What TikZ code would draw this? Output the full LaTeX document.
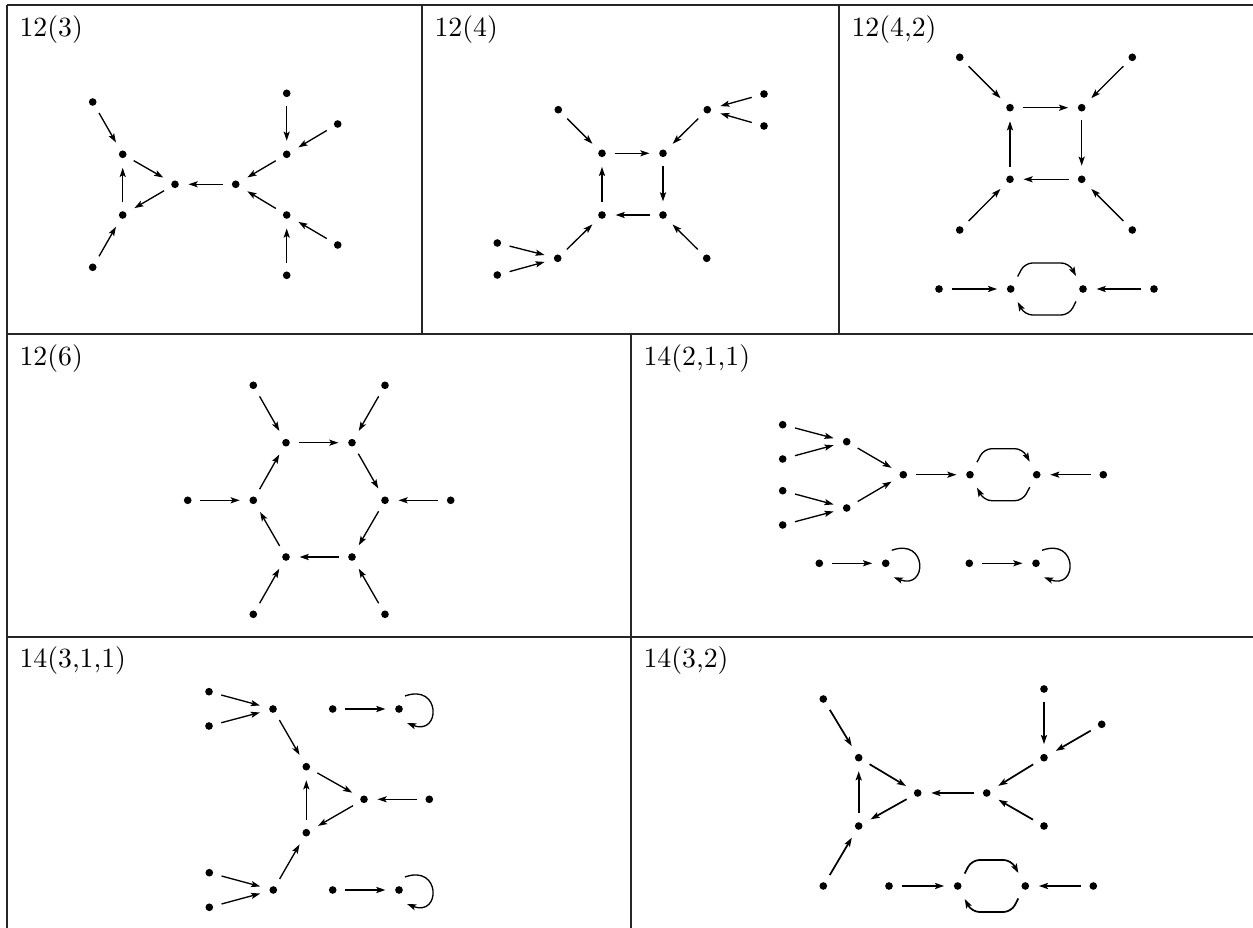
\documentclass[tikz,border=0pt]{standalone}
\usetikzlibrary{arrows.meta}
\tikzset{
  dot/.style={circle,fill=black,inner sep=0pt,minimum size=2.75pt},
  tipA/.style={-{Stealth[length=3.3pt,width=2.2pt,inset=0.7pt]}},
  arr/.style={tipA,line width=0.48pt,shorten <=3pt,shorten >=3.3pt},
  curv/.style={tipA,line width=0.48pt,rounded corners=2.8pt},
  lab/.style={anchor=north west,inner sep=0pt,font=\fontsize{10}{12}\selectfont},
  rule/.style={line width=0.4pt,draw=black!85}
}
\newcommand\twoarcs[2]{%
  \draw[curv] ([shift={(7,-12.5)}]#1.center) -- ([shift={(14,-26)}]#1.center) -- ([shift={(-14,-26)}]#2.center) -- ([shift={(-7,-13)}]#2.center);
  \draw[curv] ([shift={(-7,12.5)}]#2.center) -- ([shift={(-14,26)}]#2.center) -- ([shift={(14,26)}]#1.center) -- ([shift={(7,13)}]#1.center);}
\newcommand\selfloop[1]{%
  \draw[curv] ([shift={(6,-13)}]#1.center) .. controls +(36,-13) and +(34,13) .. ([shift={(8,14)}]#1.center);}
\begin{document}
\begin{tikzpicture}[x=0.36pt,y=-0.36pt]
\useasboundingbox (0,0) rectangle (1253,928);
% table rules
\draw[rule] (7,5) -- (1253,5);
\draw[rule] (7,5) -- (7,928);
\draw[rule] (7,334) -- (1253,334);
\draw[rule] (7,637) -- (1253,637);
\draw[rule] (422,5) -- (422,334);
\draw[rule] (839,5) -- (839,334);
\draw[rule] (631,334) -- (631,928);
% labels
\node[lab] (L1) at (19,15) {12(3)};
\node[lab] (L2) at (434,15) {12(4)};
\node[lab] (L3) at (851,15) {12(4,2)};
\node[lab] (L4) at (19,344) {12(6)};
\node[lab] (L5) at (643,344) {14(2,1,1)};
\node[lab] (L6) at (19,646) {14(3,1,1)};
\node[lab] (L7) at (643,646) {14(3,2)};
% ---- 12(3)
\node[dot] (a) at (92.7,102) {};
\node[dot] (b) at (122.7,154.3) {};
\node[dot] (c) at (122.7,215) {};
\node[dot] (d) at (92.7,267.3) {};
\node[dot] (e) at (175,184.3) {};
\node[dot] (f) at (235.7,184.3) {};
\node[dot] (g) at (286.7,154.3) {};
\node[dot] (h) at (286.7,215) {};
\node[dot] (i) at (286.7,93.3) {};
\node[dot] (j) at (337.7,124) {};
\node[dot] (k) at (337.7,245) {};
\node[dot] (l) at (286.7,275.3) {};
\draw[arr] (a) -- (b);
\draw[arr] (b) -- (e);
\draw[arr] (e) -- (c);
\draw[arr] (c) -- (b);
\draw[arr] (d) -- (c);
\draw[arr] (f) -- (e);
\draw[arr] (g) -- (f);
\draw[arr] (h) -- (f);
\draw[arr] (i) -- (g);
\draw[arr] (j) -- (g);
\draw[arr] (k) -- (h);
\draw[arr] (l) -- (h);
% ---- 12(4)
\node[dot] (Bp) at (558.3,109.7) {};
\node[dot] (Bq) at (602,153.3) {};
\node[dot] (Br) at (663,153.3) {};
\node[dot] (Bs) at (707.3,109.7) {};
\node[dot] (Bt) at (764,94) {};
\node[dot] (Bu) at (764,126) {};
\node[dot] (Bv) at (602,215) {};
\node[dot] (Bw) at (663,215) {};
\node[dot] (Bx) at (706.7,258.3) {};
\node[dot] (By) at (557.7,258.3) {};
\node[dot] (Bz) at (497.3,243) {};
\node[dot] (Bzz) at (497.3,275) {};
\draw[arr] (Bp) -- (Bq);
\draw[arr] (Bq) -- (Br);
\draw[arr] (Br) -- (Bw);
\draw[arr] (Bw) -- (Bv);
\draw[arr] (Bv) -- (Bq);
\draw[arr] (Bs) -- (Br);
\draw[arr] (Bt) -- (Bs);
\draw[arr] (Bu) -- (Bs);
\draw[arr] (Bx) -- (Bw);
\draw[arr] (By) -- (Bv);
\draw[arr] (Bz) -- (By);
\draw[arr] (Bzz) -- (By);
% ---- 12(4,2)
\node[dot] (CA) at (959.7,57.3) {};
\node[dot] (CB) at (1010,107.7) {};
\node[dot] (CC) at (1081.7,107.7) {};
\node[dot] (CD) at (1132.3,57.3) {};
\node[dot] (CE) at (1010,179.3) {};
\node[dot] (CF) at (1081.7,179.3) {};
\node[dot] (CG) at (959.7,230) {};
\node[dot] (CH) at (1132.3,230) {};
\node[dot] (CI) at (939,289) {};
\node[dot] (CJ) at (1010.7,289) {};
\node[dot] (CK) at (1083,289) {};
\node[dot] (CL) at (1154,289) {};
\draw[arr] (CA) -- (CB);
\draw[arr] (CB) -- (CC);
\draw[arr] (CC) -- (CF);
\draw[arr] (CF) -- (CE);
\draw[arr] (CE) -- (CB);
\draw[arr] (CD) -- (CC);
\draw[arr] (CG) -- (CE);
\draw[arr] (CH) -- (CF);
\draw[arr] (CI) -- (CJ);
\draw[arr] (CL) -- (CK);
\twoarcs{CJ}{CK}
% ---- 12(6)
\node[dot] (Dn1) at (253.3,385.3) {};
\node[dot] (Dn2) at (385,385.3) {};
\node[dot] (Dh1) at (286,442.7) {};
\node[dot] (Dh2) at (352,442.7) {};
\node[dot] (Dh3) at (385,500.3) {};
\node[dot] (Dh4) at (352,557) {};
\node[dot] (Dh5) at (286,557) {};
\node[dot] (Dh6) at (253.3,500.3) {};
\node[dot] (Do1) at (187.7,500.3) {};
\node[dot] (Do2) at (450.7,500.3) {};
\node[dot] (Db1) at (253.3,614.3) {};
\node[dot] (Db2) at (385,614.3) {};
\draw[arr] (Dn1) -- (Dh1);
\draw[arr] (Dh1) -- (Dh2);
\draw[arr] (Dn2) -- (Dh2);
\draw[arr] (Dh2) -- (Dh3);
\draw[arr] (Do2) -- (Dh3);
\draw[arr] (Dh3) -- (Dh4);
\draw[arr] (Dh4) -- (Dh5);
\draw[arr] (Db2) -- (Dh4);
\draw[arr] (Db1) -- (Dh5);
\draw[arr] (Dh5) -- (Dh6);
\draw[arr] (Dh6) -- (Dh1);
\draw[arr] (Do1) -- (Dh6);
% ---- 14(2,1,1)
\node[dot] (El1) at (782.7,424.7) {};
\node[dot] (El2) at (782.7,459) {};
\node[dot] (El3) at (782.7,490.7) {};
\node[dot] (El4) at (782.7,525) {};
\node[dot] (Em1) at (846.7,441.7) {};
\node[dot] (Em2) at (846.7,508) {};
\node[dot] (Ec) at (903.3,474.7) {};
\node[dot] (Ed1) at (970,474.7) {};
\node[dot] (Ed2) at (1036.7,474.7) {};
\node[dot] (Ed3) at (1103.3,474.7) {};
\node[dot] (Es1) at (819.3,563.3) {};
\node[dot] (Es2) at (885.7,563.3) {};
\node[dot] (Es3) at (969.3,563.3) {};
\node[dot] (Es4) at (1036,563.3) {};
\draw[arr] (El1) -- (Em1);
\draw[arr] (El2) -- (Em1);
\draw[arr] (El3) -- (Em2);
\draw[arr] (El4) -- (Em2);
\draw[arr] (Em1) -- (Ec);
\draw[arr] (Em2) -- (Ec);
\draw[arr] (Ec) -- (Ed1);
\draw[arr] (Ed3) -- (Ed2);
\twoarcs{Ed1}{Ed2}
\draw[arr] (Es1) -- (Es2);
\draw[arr] (Es3) -- (Es4);
\selfloop{Es2}
\selfloop{Es4}
% ---- 14(3,1,1)
\node[dot] (Fq1) at (209,691.7) {};
\node[dot] (Fq2) at (209,726) {};
\node[dot] (Fr1) at (273,709) {};
\node[dot] (Ft1) at (332.7,709) {};
\node[dot] (Ft2) at (399,709) {};
\node[dot] (Fa) at (306.3,766.7) {};
\node[dot] (Fb) at (364,799.3) {};
\node[dot] (Fe) at (429.3,799.3) {};
\node[dot] (Fc) at (306.3,832.7) {};
\node[dot] (Fq3) at (209.3,872.7) {};
\node[dot] (Fq4) at (209.3,907.3) {};
\node[dot] (Fr2) at (273.3,890) {};
\node[dot] (Ft3) at (332.7,890) {};
\node[dot] (Ft4) at (399,890) {};
\draw[arr] (Fq1) -- (Fr1);
\draw[arr] (Fq2) -- (Fr1);
\draw[arr] (Fr1) -- (Fa);
\draw[arr] (Fa) -- (Fb);
\draw[arr] (Fe) -- (Fb);
\draw[arr] (Fb) -- (Fc);
\draw[arr] (Fc) -- (Fa);
\draw[arr] (Fq3) -- (Fr2);
\draw[arr] (Fq4) -- (Fr2);
\draw[arr] (Fr2) -- (Fc);
\draw[arr] (Ft1) -- (Ft2);
\draw[arr] (Ft3) -- (Ft4);
\selfloop{Ft2}
\selfloop{Ft4}
% ---- 14(3,2)
\begin{scope}[arr/.append style={line width=0.62pt},curv/.append style={line width=0.62pt}]
\node[dot] (Ga) at (823.3,699) {};
\node[dot] (Gb) at (858.7,757.7) {};
\node[dot] (Gc) at (858.7,826) {};
\node[dot] (Gd) at (823.3,886) {};
\node[dot] (Ge) at (917.7,793) {};
\node[dot] (Gf) at (986.7,793) {};
\node[dot] (Gg) at (1044,757.7) {};
\node[dot] (Gi) at (1044,689) {};
\node[dot] (Gj) at (1101.7,724.3) {};
\node[dot] (Gh) at (1044,826) {};
\node[dot] (Gp1) at (889,886) {};
\node[dot] (Gp2) at (957.7,886) {};
\node[dot] (Gp3) at (1025.3,886) {};
\node[dot] (Gp4) at (1093.3,886) {};
\draw[arr] (Ga) -- (Gb);
\draw[arr] (Gb) -- (Ge);
\draw[arr] (Ge) -- (Gc);
\draw[arr] (Gc) -- (Gb);
\draw[arr] (Gd) -- (Gc);
\draw[arr] (Gf) -- (Ge);
\draw[arr] (Gg) -- (Gf);
\draw[arr] (Gh) -- (Gf);
\draw[arr] (Gi) -- (Gg);
\draw[arr] (Gj) -- (Gg);
\draw[arr] (Gp1) -- (Gp2);
\draw[arr] (Gp4) -- (Gp3);
\twoarcs{Gp2}{Gp3}
\end{scope}
\end{tikzpicture}
\end{document}
